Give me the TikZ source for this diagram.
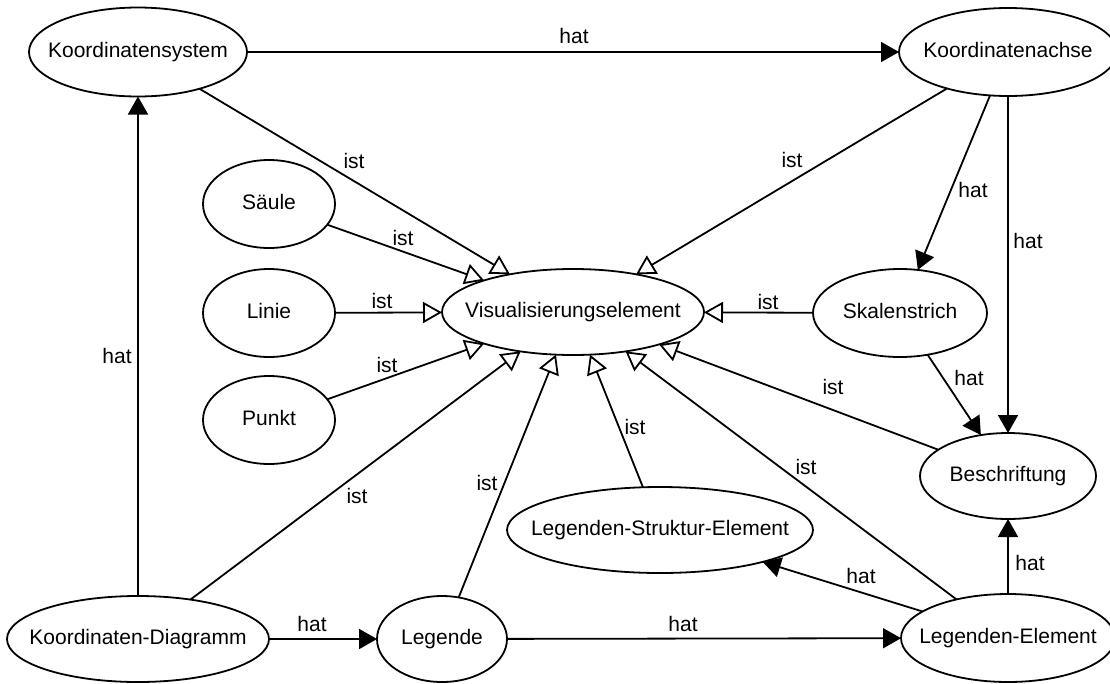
\documentclass[tikz,border=0pt]{standalone}
\usepackage{fontspec}
\setmainfont{Liberation Sans}
\usetikzlibrary{arrows.meta,shapes.geometric}
\begin{document}
\begin{tikzpicture}[x=1pt,y=-1pt,
  line width=1.8pt,
  concept/.style={draw, ellipse, inner sep=0pt, outer sep=0pt,
    text height=15pt, text depth=4pt,
    font=\fontsize{21}{25}\selectfont},
  lbl/.style={inner sep=0pt, font=\fontsize{21}{25}\selectfont},
  hat/.style={-{Triangle[length=18pt,width=20pt]}},
  ist/.style={-{Triangle[open,length=19pt,width=21pt,fill=white]}}]
\useasboundingbox (0,0) rectangle (1110,683);

% concepts
\node[concept, minimum width=218pt, minimum height=89pt] (ks)   at (138,52)  {\makebox[0pt]{Koordinatensystem}};
\node[concept, minimum width=218pt, minimum height=88pt] (ka)   at (1008,52) {\makebox[0pt]{Koordinatenachse}};
\node[concept, minimum width=132pt, minimum height=88pt] (sae)  at (269,204) {\makebox[0pt]{Säule}};
\node[concept, minimum width=132pt, minimum height=88pt] (lin)  at (269,313) {\makebox[0pt]{Linie}};
\node[concept, minimum width=132pt, minimum height=88pt] (pkt)  at (269,420) {\makebox[0pt]{Punkt}};
\node[concept, minimum width=262pt, minimum height=86pt] (vis)  at (573,312) {\makebox[0pt]{Visualisierungselement}};
\node[concept, minimum width=174pt, minimum height=88pt] (sk)   at (900,313) {\makebox[0pt]{Skalenstrich}};
\node[concept, minimum width=176pt, minimum height=86pt] (be)   at (1008,476) {\makebox[0pt]{Beschriftung}};
\node[concept, minimum width=306pt, minimum height=86pt] (lse)  at (660,530) {\makebox[0pt]{Legenden-Struktur-Element}};
\node[concept, minimum width=262pt, minimum height=86pt] (kd)   at (138,639) {\makebox[0pt]{Koordinaten-Diagramm}};
\node[concept, minimum width=130pt, minimum height=86pt] (leg)  at (442,639) {\makebox[0pt]{Legende}};
\node[concept, minimum width=214pt, minimum height=88pt] (le)   at (1008,638) {\makebox[0pt]{Legenden-Element}};

% "hat" relations
\draw[hat] (ks)  -- (ka);
\draw[hat] (ka)  -- (sk);
\draw[hat] (ka)  -- (be);
\draw[hat] (sk)  -- (be);
\draw[hat] (kd)  -- (ks);
\draw[hat] (kd)  -- (leg);
\draw[hat] (leg) -- (le);
\draw[hat] (le)  -- (be);
\draw[hat] (le)  -- (lse);

% "ist" relations
\draw[ist] (ks)  -- (vis);
\draw[ist] (ka)  -- (vis);
\draw[ist] (sae) -- (vis);
\draw[ist] (lin) -- (vis);
\draw[ist] (pkt) -- (vis);
\draw[ist] (sk)  -- (vis);
\draw[ist] (be)  -- (vis);
\draw[ist] (lse) -- (vis);
\draw[ist] (le)  -- (vis);
\draw[ist] (leg) -- (vis);
\draw[ist] (kd)  -- (vis);

% relation labels
\node[lbl] (t1)  at (574,36)  {hat};
\node[lbl] (t2)  at (973,190) {hat};
\node[lbl] (t3)  at (1028,241) {hat};
\node[lbl] (t4)  at (969,378) {hat};
\node[lbl] (t5)  at (117,356) {hat};
\node[lbl] (t6)  at (312,624) {hat};
\node[lbl] (t7)  at (683,624) {hat};
\node[lbl] (t8)  at (1030,563) {hat};
\node[lbl] (t9)  at (861,576) {hat};
\node[lbl] (i1)  at (354,161) {ist};
\node[lbl] (i2)  at (792,160) {ist};
\node[lbl] (i3)  at (403,238) {ist};
\node[lbl] (i4)  at (382,301) {ist};
\node[lbl] (i5)  at (387,365) {ist};
\node[lbl] (i6)  at (768,302) {ist};
\node[lbl] (i7)  at (833,387) {ist};
\node[lbl] (i8)  at (635,427) {ist};
\node[lbl] (i9)  at (806,467) {ist};
\node[lbl] (i10) at (357,496) {ist};
\node[lbl] (i11) at (487,483) {ist};
\end{tikzpicture}
\end{document}
